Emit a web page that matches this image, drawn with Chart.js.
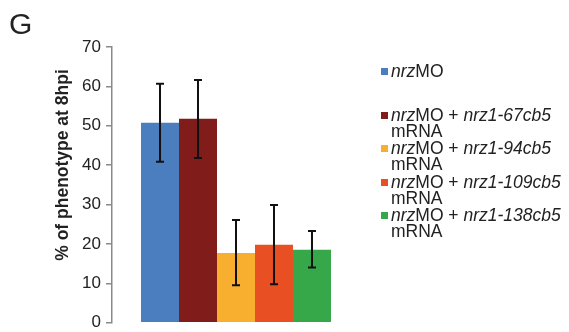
<!DOCTYPE html>
<html>
<head>
<meta charset="utf-8">
<script src="https://cdn.jsdelivr.net/npm/chart.js@4"></script>
<style>
  body { margin: 0; background: #fff; }
  #wrap { width: 569px; height: 332px; position: relative; }
</style>
</head>
<body>
<div id="wrap"><canvas id="myChart"></canvas></div>
<script>
// values (% of phenotype at 8hpi)
const categories = [''];
const seriesLabels = [
    ['<i>nrz</i>MO'],
    ['<i>nrz</i>MO + <i>nrz1-67cb5</i>', 'mRNA'],
    ['<i>nrz</i>MO + <i>nrz1-94cb5</i>', 'mRNA'],
    ['<i>nrz</i>MO + <i>nrz1-109cb5</i>', 'mRNA'],
    ['<i>nrz</i>MO + <i>nrz1-138cb5</i>', 'mRNA'],
];
const seriesValues = [50.8, 51.8, 17.7, 19.8, 18.5];
const errHigh = [60.7, 61.6, 26.1, 29.9, 23.3];
const errLow = [40.9, 41.8, 9.5, 9.8, 14.0];
const seriesColors = ['#4a7ebf', '#801c19', '#f8ae2e', '#e84f23', '#37a84a'];
const yTicks = [0, 10, 20, 30, 40, 50, 60, 70];

const FONT = '"Liberation Sans", Arial, sans-serif';

// error bars on top of each bar
const errorBars = {
    id: 'errorBars',
    afterDatasetsDraw(chart) {
        const ctx = chart.ctx;
        const y = chart.scales.y;
        ctx.save();
        ctx.strokeStyle = '#111';
        ctx.lineWidth = 2;
        chart.data.datasets.forEach((ds, i) => {
            const bar = chart.getDatasetMeta(i).data[0];
            const top = y.getPixelForValue(errHigh[i]);
            const bot = y.getPixelForValue(errLow[i]);
            ctx.beginPath();
            ctx.moveTo(bar.x, top);
            ctx.lineTo(bar.x, bot);
            ctx.moveTo(bar.x - 4, top);
            ctx.lineTo(bar.x + 4, top);
            ctx.moveTo(bar.x - 4, bot);
            ctx.lineTo(bar.x + 4, bot);
            ctx.stroke();
        });
        ctx.restore();
    }
};

// draws a line with <i>..</i> parts in italic
function drawRich(ctx, text, x, y, size) {
    const parts = text.split(/(<i>.*?<\/i>)/).filter(p => p.length);
    parts.forEach(p => {
        let italic = false;
        if (p.startsWith('<i>')) { italic = true; p = p.slice(3, -4); }
        ctx.font = (italic ? 'italic ' : '') + size + 'px ' + FONT;
        ctx.fillText(p, x, y);
        x += ctx.measureText(p).width;
    });
}

const extras = {
    id: 'extras',
    afterDraw(chart) {
        const ctx = chart.ctx;
        ctx.save();
        ctx.fillStyle = '#222';
        ctx.textBaseline = 'middle';
        // panel letter
        ctx.font = '30px ' + FONT;
        ctx.fillText('G', 9, 26);

        // y axis title
        ctx.save();
        ctx.translate(63, 165);
        ctx.rotate(-Math.PI / 2);
        ctx.textAlign = 'center';
        ctx.font = 'bold 17.5px ' + FONT;
        ctx.fillText('% of phenotype at 8hpi', 0, 0);
        ctx.restore();

        // legend
        const rowY = [72, 116, 149, 183, 216];
        seriesLabels.forEach((lines, i) => {
            ctx.fillStyle = seriesColors[i];
            ctx.fillRect(381, rowY[i] - 4, 7, 7);
            ctx.fillStyle = '#222';
            lines.forEach((ln, k) => {
                drawRich(ctx, ln, 391, rowY[i] + k * 16.3, 17.5);
            });
        });
        ctx.restore();
    }
};

const myChart = new Chart(document.getElementById('myChart'), {
    type: 'bar',
    data: {
        labels: categories,
        datasets: seriesValues.map((v, i) => ({
            label: seriesLabels[i].join(' ').replace(/<\/?i>/g, ''),
            data: [v],
            backgroundColor: seriesColors[i],
            borderWidth: 0,
            categoryPercentage: 0.766,
            barPercentage: 1.0,
        })),
    },
    options: {
        responsive: true,
        maintainAspectRatio: false,
        animation: false,
        layout: { padding: { top: 47, right: 209, bottom: 6, left: 0 } },
        plugins: {
            legend: { display: false },
            tooltip: { enabled: false },
        },
        scales: {
            x: { display: false },
            y: {
                min: 0,
                max: 70,
                afterFit: (scale) => { scale.width = 112; },
                afterBuildTicks: (scale) => { scale.ticks = yTicks.map(v => ({ value: v })); },
                border: { color: '#8a8a8a', width: 1.5 },
                grid: { drawOnChartArea: false, drawTicks: true, tickLength: 6, color: '#8a8a8a', lineWidth: 1.5 },
                ticks: {
                    color: '#222',
                    padding: 5,
                    font: { family: FONT, size: 17, lineHeight: 0.5 },
                },
            },
        },
    },
    plugins: [errorBars, extras],
});
</script>
</body>
</html>
